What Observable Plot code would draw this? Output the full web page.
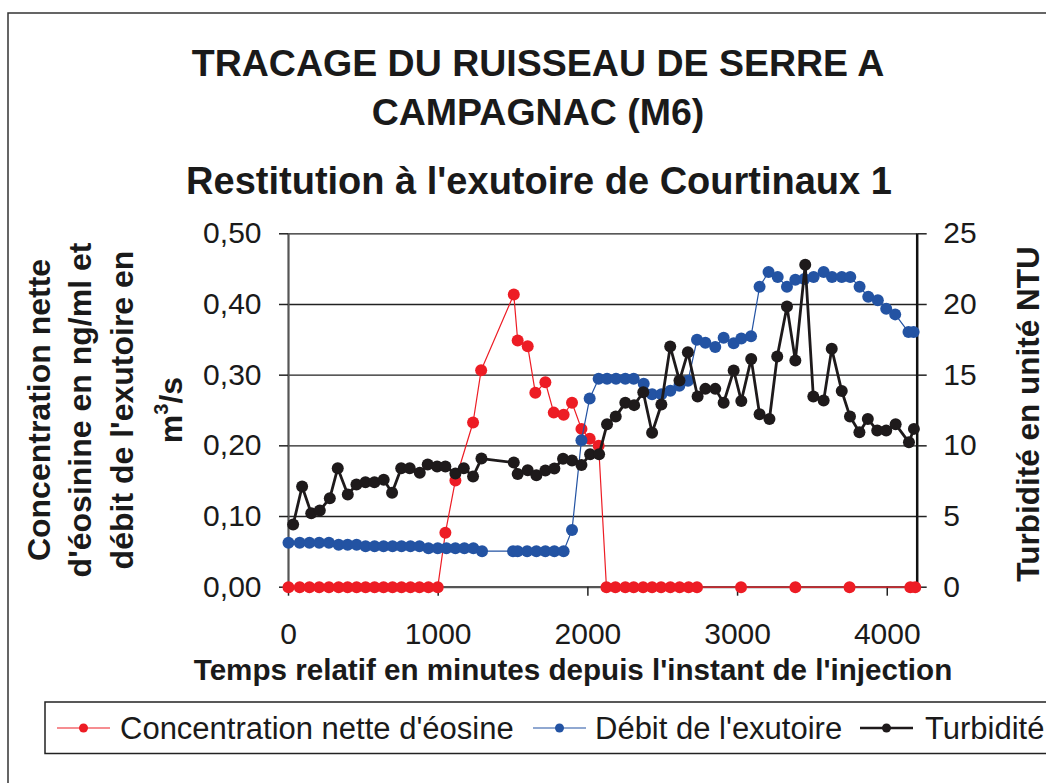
<!DOCTYPE html>
<html><head><meta charset="utf-8">
<script src="https://cdn.jsdelivr.net/npm/d3@7"></script>
<script src="https://cdn.jsdelivr.net/npm/@observablehq/plot@0.6"></script>
<style>
html,body{margin:0;padding:0;background:#fff;}
#wrap{position:relative;width:1046px;height:783px;overflow:hidden;font-family:"Liberation Sans",Arial,Helvetica,sans-serif;}
#chart{position:absolute;left:0;top:0;}
#overlay{position:absolute;left:0;top:0;pointer-events:none;}
</style></head><body>
<div id="wrap"><div id="chart"></div><svg id="overlay" width="1046" height="783"></svg></div>
<script>
// ---- Data ----
const titleLines = ["TRACAGE DU RUISSEAU DE SERRE A", "CAMPAGNAC (M6)"];
const subtitle = "Restitution à l'exutoire de Courtinaux 1";
const xTitle = "Temps relatif en minutes depuis l'instant de l'injection";
const yLeftTitle = ["Concentration nette", "d'éosinine en ng/ml et", "débit de l'exutoire en"];
const yRightTitle = "Turbidité en unité NTU";
const seriesNames = ["Concentration nette d'éosine", "Débit de l'exutoire", "Turbidité"];
const xTicks = [0, 1000, 2000, 3000, 4000];
const yLeftTicks = [0, 0.1, 0.2, 0.3, 0.4, 0.5];
const yRightTicks = [0, 5, 10, 15, 20, 25];

// Concentration nette d'éosine (ng/ml)
const concT = [0,75,140,205,270,335,395,455,515,575,635,695,755,815,875,935,997,1048,1115,1233,1287,1505,1531,1598,1649,1716,1772,1838,1894,1957,2012,2072,2124,2184,2250,2306,2369,2429,2489,2551,2613,2673,2729,3023,3386,3748,4154,4187];
const concV = [0,0,0,0,0,0,0,0,0,0,0,0,0,0,0,0,0,0.077,0.151,0.233,0.307,0.414,0.349,0.341,0.275,0.290,0.247,0.244,0.261,0.224,0.210,0.200,0,0,0,0,0,0,0,0,0,0,0,0,0,0,0,0];

// Débit de l'exutoire (m3/s)
const debitT = [0,75,140,205,270,335,395,455,515,575,635,695,755,815,875,935,997,1055,1115,1175,1235,1293,1500,1531,1594,1656,1716,1776,1838,1894,1957,2012,2072,2128,2188,2250,2306,2373,2429,2491,2551,2611,2669,2729,2785,2851,2907,2974,3025,3090,3147,3207,3268,3330,3386,3446,3508,3575,3631,3696,3753,3815,3873,3937,3993,4053,4142,4176];
const debitV = [0.063,0.063,0.063,0.063,0.063,0.060,0.060,0.060,0.058,0.058,0.058,0.058,0.058,0.058,0.058,0.055,0.055,0.055,0.055,0.055,0.055,0.051,0.051,0.051,0.051,0.051,0.051,0.051,0.051,0.081,0.208,0.267,0.295,0.295,0.295,0.295,0.295,0.288,0.273,0.273,0.278,0.285,0.292,0.350,0.346,0.340,0.353,0.345,0.352,0.355,0.425,0.446,0.439,0.425,0.435,0.436,0.439,0.446,0.439,0.439,0.439,0.425,0.411,0.406,0.394,0.386,0.361,0.361];

// Turbidité (NTU)
const turbT = [31,91,152,209,276,329,396,454,514,574,636,692,753,810,877,930,993,1048,1115,1171,1233,1289,1505,1531,1598,1656,1716,1776,1834,1894,1957,2015,2075,2128,2186,2250,2309,2370,2429,2491,2550,2612,2668,2733,2785,2851,2907,2974,3025,3091,3147,3213,3265,3330,3386,3452,3506,3575,3629,3696,3751,3814,3870,3933,3993,4056,4145,4178];
const turbV = [4.43,7.12,5.23,5.42,6.3,8.42,6.56,7.26,7.43,7.43,7.6,6.68,8.42,8.42,8.09,8.68,8.54,8.54,8.05,8.42,7.83,9.1,8.82,8.0,8.27,7.92,8.25,8.4,9.08,8.96,8.64,9.4,9.4,11.52,12.07,13.04,12.88,13.79,10.93,12.92,17.02,14.62,16.62,13.49,14.03,14.03,13.05,15.33,13.18,16.15,12.23,11.9,16.32,19.85,16.03,22.81,13.49,13.2,16.86,13.88,12.07,10.96,11.9,11.08,11.08,11.52,10.25,11.2];

const RED = "#ed1c24", BLUE = "#2353a3", BLACK = "#1e1a1b";
const FONT = '"Liberation Sans", Arial, Helvetica, sans-serif';

// Right axis (0-25 NTU) shares the left scale (0-0.5)
const rightMax = yRightTicks[yRightTicks.length - 1], leftMax = yLeftTicks[yLeftTicks.length - 1];
const conc = concT.map((t, i) => ({t, v: concV[i]}));
const debit = debitT.map((t, i) => ({t, v: debitV[i]}));
const turb = turbT.map((t, i) => ({t, v: turbV[i] * leftMax / rightMax}));

const chart = Plot.plot({
  width: 1046, height: 783,
  marginLeft: 288, marginRight: 129.3, marginTop: 233.3, marginBottom: 196.3,
  x: {domain: [0, 4200], label: null},
  y: {domain: [0, leftMax], label: null},
  style: {fontFamily: FONT, fontSize: "30px", color: "#1a1a1a", background: "transparent", overflow: "visible"},
  marks: [
    Plot.ruleY(yLeftTicks.slice(1), {stroke: "#222", strokeWidth: 1.3}),
    Plot.ruleX([0], {stroke: "#555", strokeWidth: 2.2}),
    Plot.ruleY([0], {stroke: "#555", strokeWidth: 2.2}),
    Plot.ruleX([4200], {stroke: "#111", strokeWidth: 2.5}),
    Plot.axisY({anchor: "left", label: null, ticks: yLeftTicks, tickFormat: d => d.toFixed(2).replace(".", ","), tickSize: 9, tickPadding: 18, fontSize: 30, stroke: "#222", strokeWidth: 1.5}),
    Plot.axisY({anchor: "right", label: null, ticks: yLeftTicks, tickFormat: d => String(Math.round(d * rightMax / leftMax)), tickSize: 9, tickPadding: 17, fontSize: 30, stroke: "#222", strokeWidth: 1.5}),
    Plot.axisX({anchor: "bottom", label: null, ticks: xTicks, tickFormat: d => String(d), tickSize: 9, tickPadding: 26, fontSize: 30, stroke: "#222", strokeWidth: 1.5}),
    Plot.line(conc, {x: "t", y: "v", stroke: RED, strokeWidth: 1.2}),
    Plot.dot(conc, {x: "t", y: "v", r: 6, fill: RED}),
    Plot.line(debit, {x: "t", y: "v", stroke: BLUE, strokeWidth: 1.2}),
    Plot.dot(debit, {x: "t", y: "v", r: 6, fill: BLUE}),
    Plot.line(turb, {x: "t", y: "v", stroke: BLACK, strokeWidth: 2.8}),
    Plot.dot(turb, {x: "t", y: "v", r: 6, fill: BLACK})
  ]
});
document.getElementById("chart").appendChild(chart);

// ---- Overlay: frame, titles, axis titles, legend ----
const ov = d3.select("#overlay").style("font-family", FONT);
ov.append("rect").attr("x", 8).attr("y", 13).attr("width", 1100).attr("height", 800)
  .attr("fill", "none").attr("stroke", "#333").attr("stroke-width", 1.5);

const titleY = [76, 125];
titleLines.forEach((s, i) => ov.append("text").attr("x", 538).attr("y", titleY[i])
  .attr("text-anchor", "middle").attr("font-size", 37.5).attr("font-weight", "bold").attr("fill", "#1a1a1a").text(s));
ov.append("text").attr("x", 539).attr("y", 194).attr("text-anchor", "middle")
  .attr("font-size", 38).attr("font-weight", "bold").attr("fill", "#1a1a1a").text(subtitle);

ov.append("text").attr("x", 573).attr("y", 680).attr("text-anchor", "middle")
  .attr("font-size", 29.6).attr("font-weight", "bold").attr("fill", "#1a1a1a").text(xTitle);

const yBase = [50, 91, 133];
yLeftTitle.forEach((s, i) => ov.append("text").attr("transform", `translate(${yBase[i]},410) rotate(-90)`)
  .attr("text-anchor", "middle").attr("font-size", 32).attr("font-weight", "bold").attr("fill", "#1a1a1a").text(s));
const unit = ov.append("text").attr("transform", "translate(182,410) rotate(-90)")
  .attr("text-anchor", "middle").attr("font-size", 32).attr("font-weight", "bold").attr("fill", "#1a1a1a");
unit.append("tspan").text("m");
unit.append("tspan").attr("font-size", 20).attr("dy", -14).text("3");
unit.append("tspan").attr("dy", 14).text("/s");

ov.append("text").attr("transform", "translate(1039,414) rotate(-90)")
  .attr("text-anchor", "middle").attr("font-size", 31.5).attr("font-weight", "bold").attr("fill", "#1a1a1a").text(yRightTitle);

// Legend
ov.append("rect").attr("x", 45).attr("y", 702).attr("width", 1100).attr("height", 51.5)
  .attr("fill", "#fff").attr("stroke", "#222").attr("stroke-width", 1.5);
const legColors = [RED, BLUE, BLACK];
const legX = [57, 533, 860];
const legTextX = [120, 595, 925];
const legLineW = [1.2, 1.2, 2.6];
seriesNames.forEach((s, i) => {
  ov.append("line").attr("x1", legX[i]).attr("x2", legX[i] + 53).attr("y1", 728).attr("y2", 728)
    .attr("stroke", legColors[i]).attr("stroke-width", legLineW[i]);
  ov.append("circle").attr("cx", legX[i] + 26.5).attr("cy", 728).attr("r", 4.5).attr("fill", legColors[i]);
  ov.append("text").attr("x", legTextX[i]).attr("y", 739).attr("font-size", 31).attr("fill", "#1a1a1a").text(s);
});
</script>
</body></html>
